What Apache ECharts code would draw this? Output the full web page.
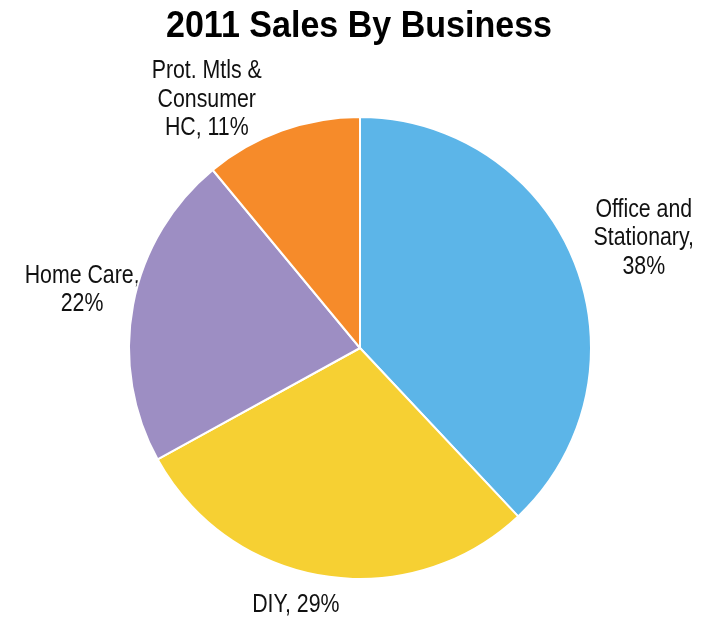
<!DOCTYPE html>
<html>
<head>
<meta charset="utf-8">
<script src="https://cdn.jsdelivr.net/npm/echarts@6/dist/echarts.min.js"></script>
<style>
  html, body { margin: 0; padding: 0; background: #ffffff; }
  #chart { width: 717px; height: 618px; }
</style>
</head>
<body>
<div id="chart"></div>
<script>
// 2011 sales split by business unit (percent of total)
const businesses = ['Office and\nStationary', 'DIY', 'Home Care', 'Prot. Mtls &\nConsumer\nHC'];
const shares = [38, 29, 22, 11];
const sliceColors = ['#5CB5E8', '#F6D033', '#9D8EC3', '#F68B2A'];
// whether the percentage goes on its own line under the name
const percentOnOwnLine = [true, false, true, false];

// offset of each label's centre from the rim point at the middle of its slice
const labelOffset = [[69, -25], [-28, 29], [-51, -15], [-75, -31]];

const FONT = '"Liberation Sans", Arial, sans-serif';
const PIE_CENTER = [360, 348];
const PIE_RADIUS = 231;

const total = shares.reduce((a, b) => a + b, 0);

// middle of every slice, measured along the same running total the pie uses
const sliceMiddles = [];
shares.reduce((start, v) => { sliceMiddles.push(start + v / 2); return start + v; }, 0);

function labelText(i) {
  const lines = businesses[i].split('\n');
  const pct = shares[i] + '%';
  if (percentOnOwnLine[i]) {
    lines[lines.length - 1] += ',';
    lines.push(pct);
  } else {
    lines[lines.length - 1] += ', ' + pct;
  }
  return lines.join('\n');
}

const chart = echarts.init(document.getElementById('chart'), null, { renderer: 'canvas' });

chart.setOption({
  animation: false,
  backgroundColor: '#ffffff',
  graphic: [{
    // condensed bold heading
    type: 'text',
    x: 359,
    y: 27,
    scaleX: 0.92,
    style: {
      text: '2011 Sales By Business',
      font: 'bold 37px ' + FONT,
      fill: '#000000',
      align: 'center',
      verticalAlign: 'middle'
    }
  }],
  // polar frame sharing the pie's centre, radius and start angle, used to place labels
  polar: { center: PIE_CENTER, radius: PIE_RADIUS },
  angleAxis: { type: 'value', min: 0, max: total, startAngle: 90, clockwise: true, show: false },
  radiusAxis: { type: 'value', min: 0, max: 1, show: false },
  series: [{
    type: 'pie',
    center: PIE_CENTER,
    radius: PIE_RADIUS,
    startAngle: 90,
    clockwise: true,
    data: businesses.map((name, i) => ({
      name: name,
      value: shares[i],
      itemStyle: { color: sliceColors[i] }
    })),
    itemStyle: { borderColor: '#ffffff', borderWidth: 2 },
    label: { show: false },
    labelLine: { show: false }
  }, {
    // slice captions: condensed text placed just outside the rim
    type: 'custom',
    coordinateSystem: 'polar',
    silent: true,
    data: sliceMiddles.map(m => [1, m]),
    renderItem: (params, api) => {
      const i = params.dataIndex;
      const pt = api.coord([api.value(0), api.value(1)]);
      return {
        type: 'text',
        x: pt[0] + labelOffset[i][0],
        y: pt[1] + labelOffset[i][1],
        scaleX: 0.82,
        style: {
          text: labelText(i),
          font: '26px ' + FONT,
          fill: '#111111',
          align: 'center',
          verticalAlign: 'middle',
          lineHeight: 28.5
        }
      };
    }
  }]
});
</script>
</body>
</html>
